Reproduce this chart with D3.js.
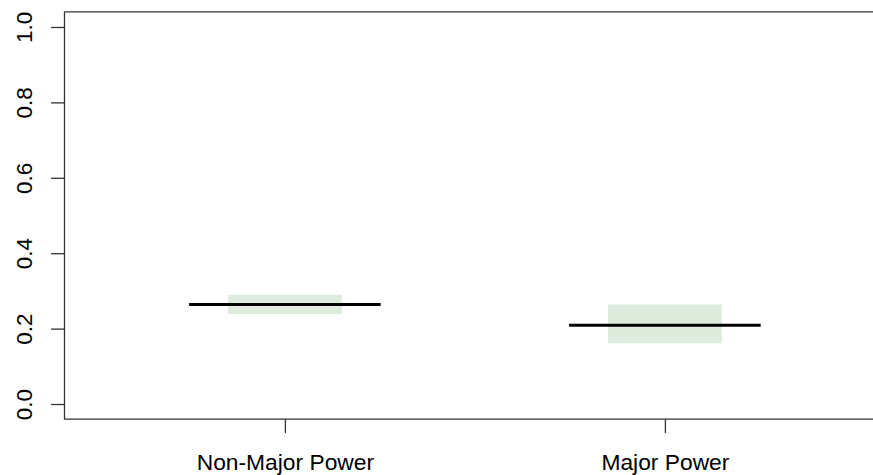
<!DOCTYPE html>
<html>
<head>
<meta charset="utf-8">
<script src="https://cdn.jsdelivr.net/npm/d3@7"></script>
<style>
  html, body { margin: 0; padding: 0; background: #fff; overflow: hidden; }
  svg { display: block; }
</style>
</head>
<body>
<svg id="chart" width="873" height="475"></svg>
<script>
const categories = ["Non-Major Power", "Major Power"];
const estimates = [0.264, 0.209];
const lower = [0.239, 0.161];
const upper = [0.290, 0.264];
const yTicks = [0.0, 0.2, 0.4, 0.6, 0.8, 1.0];

const svg = d3.select("#chart");
const font = "'Liberation Sans', Arial, sans-serif";

// x in category index units (1, 2), R default limits 0.42..2.58
const x = d3.scaleLinear().domain([0.42, 2.58]).range([64.5, 885.3]);
const y = d3.scaleLinear().domain([-0.04, 1.04]).range([419.1, 11.9]);

const data = categories.map((c, i) => ({ c, i: i + 1, est: estimates[i], lo: lower[i], hi: upper[i] }));

// CI rects
svg.selectAll("rect.ci").data(data).enter().append("rect")
  .attr("class", "ci")
  .attr("x", d => x(d.i - 0.15))
  .attr("width", d => x(d.i + 0.15) - x(d.i - 0.15))
  .attr("y", d => y(d.hi))
  .attr("height", d => y(d.lo) - y(d.hi))
  .attr("fill", "#deecde");

// estimate lines
svg.selectAll("line.est").data(data).enter().append("line")
  .attr("class", "est")
  .attr("x1", d => x(d.i - 0.252))
  .attr("x2", d => x(d.i + 0.252))
  .attr("y1", d => y(d.est))
  .attr("y2", d => y(d.est))
  .attr("stroke", "#000")
  .attr("stroke-width", 3);

// box (right side lies outside the visible canvas)
const [x0, x1] = x.range();
const [yb, yt] = y.range();
svg.append("path")
  .attr("d", `M${x1},${yt}H${x0}V${yb}H${x1}`)
  .attr("fill", "none").attr("stroke", "#333").attr("stroke-width", 1.3);

// y axis
const yAxis = svg.append("g").attr("transform", `translate(${x0},0)`)
  .call(d3.axisLeft(y).tickValues(yTicks).tickFormat(d3.format(".1f")).tickSize(13.5).tickPadding(0));
yAxis.select(".domain").remove();
yAxis.selectAll(".tick line").attr("stroke", "#333").attr("stroke-width", 1.3);
yAxis.selectAll(".tick text")
  .attr("x", null).attr("dy", null)
  .attr("text-anchor", "middle")
  .attr("font-family", font)
  .attr("font-size", 22.5)
  .attr("fill", "#000")
  .attr("transform", "translate(-32.3,0) rotate(-90)");

// x axis
const xAxis = svg.append("g").attr("transform", `translate(0,${yb})`)
  .call(d3.axisBottom(x).tickValues([1, 2]).tickFormat(d => categories[d - 1]).tickSize(14).tickPadding(0));
xAxis.select(".domain").remove();
xAxis.selectAll(".tick line").attr("stroke", "#333").attr("stroke-width", 1.3);
xAxis.selectAll(".tick text")
  .attr("y", 51).attr("dy", null)
  .attr("font-family", font)
  .attr("font-size", 22.8)
  .attr("fill", "#000");
</script>
</body>
</html>
